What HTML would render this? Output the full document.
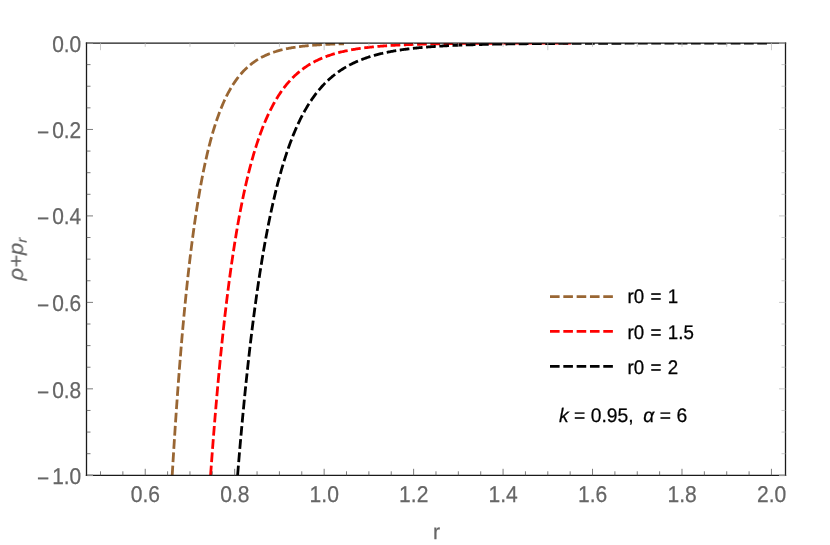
<!DOCTYPE html>
<html><head><meta charset="utf-8"><title>plot</title>
<style>html,body{margin:0;padding:0;background:#fff;width:830px;height:545px;overflow:hidden;font-family:"Liberation Sans",sans-serif}</style>
</head><body>
<svg width="830" height="545" viewBox="0 0 830 545" style="position:absolute;left:0;top:0">
<rect width="830" height="545" fill="#fff"/>
<clipPath id="cp"><rect x="86.5" y="43.0" width="699.0" height="432.90000000000003"/></clipPath>
<g clip-path="url(#cp)" fill="none" stroke-width="2.8" stroke-dasharray="9.7 3.55" stroke-linejoin="round">
<path d="M172.20 475.30 L173.10 460.35 L173.99 445.93 L174.89 432.02 L175.78 418.59 L176.68 405.64 L177.57 393.14 L178.46 381.08 L179.36 369.44 L180.25 358.21 L181.15 347.37 L182.04 336.91 L182.94 326.82 L183.83 317.08 L184.73 307.68 L185.62 298.61 L186.52 289.85 L187.41 281.40 L188.30 273.25 L189.20 265.37 L190.09 257.78 L190.99 250.44 L191.88 243.36 L192.78 236.53 L193.67 229.94 L194.57 223.57 L195.46 217.42 L196.36 211.49 L197.25 205.76 L198.15 200.23 L199.04 194.90 L199.93 189.74 L200.83 184.77 L201.72 179.96 L202.62 175.33 L203.51 170.85 L204.41 166.52 L205.30 162.35 L206.20 158.32 L207.09 154.43 L207.99 150.67 L208.88 147.04 L209.78 143.53 L210.67 140.15 L211.56 136.88 L212.46 133.72 L213.35 130.67 L214.25 127.73 L215.14 124.89 L216.04 122.14 L216.93 119.49 L217.83 116.92 L218.72 114.45 L219.62 112.06 L220.51 109.75 L221.41 107.52 L222.30 105.37 L223.19 103.29 L224.09 101.28 L224.98 99.33 L225.88 97.46 L226.77 95.65 L227.67 93.90 L228.56 92.20 L229.46 90.57 L230.35 88.99 L231.25 87.47 L232.14 85.99 L233.03 84.57 L233.93 83.19 L234.82 81.86 L235.72 80.58 L236.61 79.33 L237.51 78.14 L238.40 76.98 L239.30 75.86 L240.19 74.77 L241.09 73.73 L241.98 72.72 L242.88 71.74 L243.77 70.79 L244.66 69.88 L245.56 69.00 L246.45 68.15 L247.35 67.32 L248.24 66.52 L249.14 65.75 L250.03 65.01 L250.93 64.29 L251.82 63.59 L252.72 62.92 L253.61 62.27 L254.51 61.64 L255.40 61.04 L256.29 60.45 L257.19 59.88 L258.08 59.33 L258.98 58.80 L259.87 58.29 L260.77 57.79 L261.66 57.31 L262.56 56.85 L263.45 56.40 L264.35 55.97 L265.24 55.55 L266.14 55.14 L267.03 54.75 L267.92 54.37 L268.82 54.00 L269.71 53.65 L270.61 53.31 L271.50 52.97 L272.40 52.65 L273.29 52.34 L274.19 52.04 L275.08 51.75 L275.98 51.47 L276.87 51.20 L277.76 50.94 L278.66 50.68 L279.55 50.44 L280.45 50.20 L281.34 49.97 L282.24 49.75 L283.13 49.53 L284.03 49.32 L284.92 49.12 L285.82 48.93 L286.71 48.74 L287.61 48.56 L288.50 48.38 L289.39 48.21 L290.29 48.04 L291.18 47.88 L292.08 47.73 L292.97 47.58 L293.87 47.43 L294.76 47.29 L295.66 47.16 L296.55 47.03 L297.45 46.90 L298.34 46.78 L299.24 46.66 L300.13 46.54 L301.02 46.43 L301.92 46.32 L302.81 46.22 L303.71 46.12 L304.60 46.02 L305.50 45.92 L306.39 45.83 L307.29 45.74 L308.18 45.66 L309.08 45.57 L309.97 45.49 L310.87 45.42 L311.76 45.34 L312.65 45.27 L313.55 45.20 L314.44 45.13 L315.34 45.06 L316.23 45.00 L317.13 44.94 L318.02 44.88 L318.92 44.82 L319.81 44.76 L320.71 44.71 L321.60 44.65 L322.49 44.60 L323.39 44.55 L324.28 44.51 L325.18 44.46 L326.07 44.41 L326.97 44.37 L327.86 44.33 L328.76 44.29 L329.65 44.25 L330.55 44.21 L331.44 44.17 L332.34 44.14 L333.23 44.10 L334.12 44.07 L335.02 44.03 L335.91 44.00 L336.81 43.97 L337.70 43.94 L338.60 43.91 L339.49 43.89 L340.39 43.86 L341.28 43.83 L342.18 43.81 L343.07 43.78 L343.97 43.76" stroke="#996633"/>
<path d="M210.58 475.30 L211.48 462.95 L212.37 450.97 L213.26 439.34 L214.16 428.06 L215.05 417.11 L215.95 406.48 L216.84 396.17 L217.74 386.16 L218.63 376.45 L219.53 367.02 L220.42 357.87 L221.32 348.99 L222.21 340.36 L223.10 332.00 L224.00 323.87 L224.89 315.99 L225.79 308.33 L226.68 300.90 L227.58 293.68 L228.47 286.68 L229.37 279.87 L230.26 273.27 L231.16 266.86 L232.05 260.63 L232.95 254.58 L233.84 248.71 L234.73 243.01 L235.63 237.47 L236.52 232.09 L237.42 226.87 L238.31 221.80 L239.21 216.87 L240.10 212.09 L241.00 207.44 L241.89 202.92 L242.79 198.54 L243.68 194.28 L244.58 190.14 L245.47 186.12 L246.36 182.21 L247.26 178.42 L248.15 174.73 L249.05 171.15 L249.94 167.67 L250.84 164.28 L251.73 161.00 L252.63 157.80 L253.52 154.70 L254.42 151.69 L255.31 148.75 L256.21 145.91 L257.10 143.14 L257.99 140.45 L258.89 137.83 L259.78 135.29 L260.68 132.82 L261.57 130.42 L262.47 128.08 L263.36 125.81 L264.26 123.61 L265.15 121.46 L266.05 119.38 L266.94 117.35 L267.83 115.38 L268.73 113.46 L269.62 111.60 L270.52 109.79 L271.41 108.03 L272.31 106.31 L273.20 104.65 L274.10 103.03 L274.99 101.45 L275.89 99.92 L276.78 98.43 L277.68 96.98 L278.57 95.57 L279.46 94.20 L280.36 92.87 L281.25 91.57 L282.15 90.31 L283.04 89.08 L283.94 87.88 L284.83 86.72 L285.73 85.59 L286.62 84.49 L287.52 83.42 L288.41 82.38 L289.31 81.37 L290.20 80.38 L291.09 79.42 L291.99 78.49 L292.88 77.58 L293.78 76.70 L294.67 75.84 L295.57 75.00 L296.46 74.19 L297.36 73.39 L298.25 72.62 L299.15 71.87 L300.04 71.14 L300.94 70.43 L301.83 69.73 L302.72 69.06 L303.62 68.40 L304.51 67.76 L305.41 67.14 L306.30 66.53 L307.20 65.94 L308.09 65.37 L308.99 64.81 L309.88 64.27 L310.78 63.74 L311.67 63.22 L312.56 62.72 L313.46 62.23 L314.35 61.75 L315.25 61.29 L316.14 60.83 L317.04 60.39 L317.93 59.96 L318.83 59.55 L319.72 59.14 L320.62 58.74 L321.51 58.35 L322.41 57.98 L323.30 57.61 L324.19 57.25 L325.09 56.91 L325.98 56.57 L326.88 56.24 L327.77 55.92 L328.67 55.60 L329.56 55.30 L330.46 55.00 L331.35 54.71 L332.25 54.43 L333.14 54.15 L334.04 53.88 L334.93 53.62 L335.82 53.36 L336.72 53.12 L337.61 52.87 L338.51 52.64 L339.40 52.41 L340.30 52.18 L341.19 51.96 L342.09 51.75 L342.98 51.54 L343.88 51.34 L344.77 51.14 L345.67 50.95 L346.56 50.76 L347.45 50.58 L348.35 50.40 L349.24 50.23 L350.14 50.06 L351.03 49.89 L351.93 49.73 L352.82 49.57 L353.72 49.42 L354.61 49.27 L355.51 49.12 L356.40 48.98 L357.29 48.84 L358.19 48.71 L359.08 48.57 L359.98 48.44 L360.87 48.32 L361.77 48.20 L362.66 48.08 L363.56 47.96 L364.45 47.85 L365.35 47.73 L366.24 47.63 L367.14 47.52 L368.03 47.42 L368.92 47.32 L369.82 47.22 L370.71 47.12 L371.61 47.03 L372.50 46.94 L373.40 46.85 L374.29 46.76 L375.19 46.68 L376.08 46.59 L376.98 46.51 L377.87 46.43 L378.77 46.36 L379.66 46.28 L380.55 46.21 L381.45 46.14 L382.34 46.07 L383.24 46.00 L384.13 45.93 L385.03 45.87 L385.92 45.80 L386.82 45.74 L387.71 45.68 L388.61 45.62 L389.50 45.56 L390.40 45.51 L391.29 45.45 L392.18 45.40 L393.08 45.34 L393.97 45.29 L394.87 45.24 L395.76 45.19 L396.66 45.15 L397.55 45.10 L398.45 45.05 L399.34 45.01 L400.24 44.97 L401.13 44.92 L402.02 44.88 L402.92 44.84 L403.81 44.80 L404.71 44.76 L405.60 44.73 L406.50 44.69 L407.39 44.65 L408.29 44.62 L409.18 44.58 L410.08 44.55 L410.97 44.52 L411.87 44.48 L412.76 44.45 L413.65 44.42 L414.55 44.39 L415.44 44.36 L416.34 44.33 L417.23 44.31 L418.13 44.28 L419.02 44.25 L419.92 44.23 L420.81 44.20 L421.71 44.17 L422.60 44.15 L423.50 44.13 L424.39 44.10 L425.28 44.08 L426.18 44.06 L427.07 44.04 L427.97 44.01 L428.86 43.99 L429.76 43.97 L430.65 43.95 L431.55 43.93 L432.44 43.91 L433.34 43.90 L434.23 43.88 L435.13 43.86 L436.02 43.84 L436.91 43.82 L437.81 43.81 L438.70 43.79 L439.60 43.78 L440.49 43.76 L441.39 43.74 L442.28 43.73 L443.18 43.72 L444.07 43.70 L444.97 43.69 L445.86 43.67 L446.75 43.66 L447.65 43.65 L448.54 43.63 L449.44 43.62 L450.33 43.61 L451.23 43.60 L452.12 43.58 L453.02 43.57 L453.91 43.56 L454.81 43.55 L455.70 43.54 L456.60 43.53 L457.49 43.52 L458.38 43.51 L459.28 43.50 L460.17 43.49 L461.07 43.48 L461.96 43.47 L462.86 43.46 L463.75 43.45 L464.65 43.44 L465.54 43.44 L466.44 43.43 L467.33 43.42 L468.23 43.41 L469.12 43.40 L470.01 43.40 L470.91 43.39 L471.80 43.38 L472.70 43.37 L473.59 43.37 L474.49 43.36 L475.38 43.35 L476.28 43.35 L477.17 43.34 L478.07 43.33 L478.96 43.33 L479.86 43.32 L480.75 43.31 L481.64 43.31 L482.54 43.30 L483.43 43.30 L484.33 43.29 L485.22 43.29 L486.12 43.28 L487.01 43.28 L487.91 43.27 L488.80 43.27 L489.70 43.26 L490.59 43.26 L491.48 43.25 L492.38 43.25 L493.27 43.24 L494.17 43.24 L495.06 43.23 L495.96 43.23 L496.85 43.23 L497.75 43.22 L498.64 43.22 L499.54 43.21 L500.43 43.21 L501.33 43.21 L502.22 43.20 L503.11 43.20 L504.01 43.19 L504.90 43.19 L505.80 43.19 L506.69 43.18 L507.59 43.18 L508.48 43.18 L509.38 43.18 L510.27 43.17 L511.17 43.17 L512.06 43.17 L512.96 43.16 L513.85 43.16 L514.74 43.16 L515.64 43.15 L516.53 43.15 L517.43 43.15 L518.32 43.15 L519.22 43.14 L520.11 43.14 L521.01 43.14 L521.90 43.14 L522.80 43.13 L523.69 43.13 L524.59 43.13 L525.48 43.13 L526.37 43.13 L527.27 43.12 L528.16 43.12 L529.06 43.12 L529.95 43.12 L530.85 43.12 L531.74 43.11 L532.64 43.11 L533.53 43.11 L534.43 43.11 L535.32 43.11 L536.21 43.10 L537.11 43.10 L538.00 43.10 L538.90 43.10 L539.79 43.10 L540.69 43.10 L541.58 43.09 L542.48 43.09 L543.37 43.09 L544.27 43.09 L545.16 43.09 L546.06 43.09 L546.95 43.09 L547.84 43.08 L548.74 43.08 L549.63 43.08 L550.53 43.08 L551.42 43.08 L552.32 43.08 L553.21 43.08 L554.11 43.08 L555.00 43.07 L555.90 43.07 L556.79 43.07 L557.69 43.07 L558.58 43.07 L559.47 43.07 L560.37 43.07 L561.26 43.07 L562.16 43.07 L563.05 43.06 L563.95 43.06 L564.84 43.06 L565.74 43.06 L566.63 43.06 L567.53 43.06 L568.42 43.06 L569.32 43.06 L570.21 43.06 L571.10 43.06" stroke="#ff0000"/>
<path d="M237.60 475.30 L238.49 464.38 L239.39 453.74 L240.28 443.39 L241.18 433.30 L242.07 423.47 L242.97 413.91 L243.86 404.59 L244.75 395.51 L245.65 386.67 L246.54 378.06 L247.44 369.68 L248.33 361.51 L249.23 353.55 L250.12 345.80 L251.02 338.25 L251.91 330.89 L252.81 323.73 L253.70 316.75 L254.59 309.95 L255.49 303.32 L256.38 296.87 L257.28 290.58 L258.17 284.45 L259.07 278.48 L259.96 272.66 L260.86 267.00 L261.75 261.47 L262.65 256.09 L263.54 250.85 L264.44 245.74 L265.33 240.76 L266.22 235.91 L267.12 231.18 L268.01 226.57 L268.91 222.08 L269.80 217.70 L270.70 213.43 L271.59 209.28 L272.49 205.22 L273.38 201.27 L274.28 197.42 L275.17 193.67 L276.07 190.01 L276.96 186.45 L277.85 182.97 L278.75 179.58 L279.64 176.28 L280.54 173.06 L281.43 169.92 L282.33 166.86 L283.22 163.87 L284.12 160.96 L285.01 158.13 L285.91 155.36 L286.80 152.66 L287.70 150.03 L288.59 147.47 L289.48 144.97 L290.38 142.53 L291.27 140.16 L292.17 137.84 L293.06 135.58 L293.96 133.38 L294.85 131.24 L295.75 129.15 L296.64 127.11 L297.54 125.12 L298.43 123.19 L299.32 121.30 L300.22 119.47 L301.11 117.67 L302.01 115.93 L302.90 114.22 L303.80 112.56 L304.69 110.94 L305.59 109.37 L306.48 107.83 L307.38 106.33 L308.27 104.86 L309.17 103.44 L310.06 102.05 L310.95 100.69 L311.85 99.37 L312.74 98.07 L313.64 96.82 L314.53 95.59 L315.43 94.39 L316.32 93.22 L317.22 92.08 L318.11 90.97 L319.01 89.89 L319.90 88.83 L320.80 87.80 L321.69 86.79 L322.58 85.81 L323.48 84.85 L324.37 83.91 L325.27 83.00 L326.16 82.11 L327.06 81.24 L327.95 80.39 L328.85 79.56 L329.74 78.75 L330.64 77.96 L331.53 77.19 L332.43 76.44 L333.32 75.71 L334.21 74.99 L335.11 74.29 L336.00 73.61 L336.90 72.94 L337.79 72.29 L338.69 71.66 L339.58 71.04 L340.48 70.43 L341.37 69.84 L342.27 69.26 L343.16 68.70 L344.05 68.15 L344.95 67.61 L345.84 67.08 L346.74 66.57 L347.63 66.07 L348.53 65.58 L349.42 65.10 L350.32 64.63 L351.21 64.17 L352.11 63.73 L353.00 63.29 L353.90 62.87 L354.79 62.45 L355.68 62.04 L356.58 61.65 L357.47 61.26 L358.37 60.88 L359.26 60.51 L360.16 60.14 L361.05 59.79 L361.95 59.44 L362.84 59.11 L363.74 58.78 L364.63 58.45 L365.53 58.14 L366.42 57.83 L367.31 57.53 L368.21 57.23 L369.10 56.94 L370.00 56.66 L370.89 56.38 L371.79 56.11 L372.68 55.85 L373.58 55.59 L374.47 55.34 L375.37 55.09 L376.26 54.85 L377.16 54.62 L378.05 54.38 L378.94 54.16 L379.84 53.94 L380.73 53.72 L381.63 53.51 L382.52 53.30 L383.42 53.10 L384.31 52.90 L385.21 52.71 L386.10 52.52 L387.00 52.34 L387.89 52.16 L388.78 51.98 L389.68 51.80 L390.57 51.63 L391.47 51.47 L392.36 51.31 L393.26 51.15 L394.15 50.99 L395.05 50.84 L395.94 50.69 L396.84 50.54 L397.73 50.40 L398.63 50.26 L399.52 50.12 L400.41 49.99 L401.31 49.86 L402.20 49.73 L403.10 49.60 L403.99 49.48 L404.89 49.36 L405.78 49.24 L406.68 49.13 L407.57 49.01 L408.47 48.90 L409.36 48.79 L410.26 48.69 L411.15 48.58 L412.04 48.48 L412.94 48.38 L413.83 48.28 L414.73 48.19 L415.62 48.09 L416.52 48.00 L417.41 47.91 L418.31 47.82 L419.20 47.73 L420.10 47.65 L420.99 47.57 L421.89 47.49 L422.78 47.41 L423.67 47.33 L424.57 47.25 L425.46 47.18 L426.36 47.10 L427.25 47.03 L428.15 46.96 L429.04 46.89 L429.94 46.82 L430.83 46.76 L431.73 46.69 L432.62 46.63 L433.51 46.56 L434.41 46.50 L435.30 46.44 L436.20 46.38 L437.09 46.33 L437.99 46.27 L438.88 46.21 L439.78 46.16 L440.67 46.10 L441.57 46.05 L442.46 46.00 L443.36 45.95 L444.25 45.90 L445.14 45.85 L446.04 45.80 L446.93 45.76 L447.83 45.71 L448.72 45.67 L449.62 45.62 L450.51 45.58 L451.41 45.54 L452.30 45.50 L453.20 45.45 L454.09 45.41 L454.99 45.38 L455.88 45.34 L456.77 45.30 L457.67 45.26 L458.56 45.22 L459.46 45.19 L460.35 45.15 L461.25 45.12 L462.14 45.09 L463.04 45.05 L463.93 45.02 L464.83 44.99 L465.72 44.96 L466.62 44.93 L467.51 44.90 L468.40 44.87 L469.30 44.84 L470.19 44.81 L471.09 44.78 L471.98 44.75 L472.88 44.73 L473.77 44.70 L474.67 44.67 L475.56 44.65 L476.46 44.62 L477.35 44.60 L478.24 44.57 L479.14 44.55 L480.03 44.53 L480.93 44.50 L481.82 44.48 L482.72 44.46 L483.61 44.44 L484.51 44.41 L485.40 44.39 L486.30 44.37 L487.19 44.35 L488.09 44.33 L488.98 44.31 L489.87 44.29 L490.77 44.27 L491.66 44.26 L492.56 44.24 L493.45 44.22 L494.35 44.20 L495.24 44.19 L496.14 44.17 L497.03 44.15 L497.93 44.13 L498.82 44.12 L499.72 44.10 L500.61 44.09 L501.50 44.07 L502.40 44.06 L503.29 44.04 L504.19 44.03 L505.08 44.01 L505.98 44.00 L506.87 43.99 L507.77 43.97 L508.66 43.96 L509.56 43.95 L510.45 43.93 L511.35 43.92 L512.24 43.91 L513.13 43.89 L514.03 43.88 L514.92 43.87 L515.82 43.86 L516.71 43.85 L517.61 43.84 L518.50 43.82 L519.40 43.81 L520.29 43.80 L521.19 43.79 L522.08 43.78 L522.97 43.77 L523.87 43.76 L524.76 43.75 L525.66 43.74 L526.55 43.73 L527.45 43.72 L528.34 43.71 L529.24 43.70 L530.13 43.70 L531.03 43.69 L531.92 43.68 L532.82 43.67 L533.71 43.66 L534.60 43.65 L535.50 43.64 L536.39 43.64 L537.29 43.63 L538.18 43.62 L539.08 43.61 L539.97 43.61 L540.87 43.60 L541.76 43.59 L542.66 43.58 L543.55 43.58 L544.45 43.57 L545.34 43.56 L546.23 43.56 L547.13 43.55 L548.02 43.54 L548.92 43.54 L549.81 43.53 L550.71 43.52 L551.60 43.52 L552.50 43.51 L553.39 43.51 L554.29 43.50 L555.18 43.49 L556.08 43.49 L556.97 43.48 L557.86 43.48 L558.76 43.47 L559.65 43.47 L560.55 43.46 L561.44 43.46 L562.34 43.45 L563.23 43.45 L564.13 43.44 L565.02 43.44 L565.92 43.43 L566.81 43.43 L567.70 43.42 L568.60 43.42 L569.49 43.41 L570.39 43.41 L571.28 43.40 L572.18 43.40 L573.07 43.39 L573.97 43.39 L574.86 43.39 L575.76 43.38 L576.65 43.38 L577.55 43.37 L578.44 43.37 L579.33 43.37 L580.23 43.36 L581.12 43.36 L582.02 43.35 L582.91 43.35 L583.81 43.35 L584.70 43.34 L585.60 43.34 L586.49 43.34 L587.39 43.33 L588.28 43.33 L589.18 43.33 L590.07 43.32 L590.96 43.32 L591.86 43.32 L592.75 43.31 L593.65 43.31 L594.54 43.31 L595.44 43.31 L596.33 43.30 L597.23 43.30 L598.12 43.30 L599.02 43.29 L599.91 43.29 L600.81 43.29 L601.70 43.29 L602.59 43.28 L603.49 43.28 L604.38 43.28 L605.28 43.27 L606.17 43.27 L607.07 43.27 L607.96 43.27 L608.86 43.26 L609.75 43.26 L610.65 43.26 L611.54 43.26 L612.43 43.26 L613.33 43.25 L614.22 43.25 L615.12 43.25 L616.01 43.25 L616.91 43.24 L617.80 43.24 L618.70 43.24 L619.59 43.24 L620.49 43.24 L621.38 43.23 L622.28 43.23 L623.17 43.23 L624.06 43.23 L624.96 43.23 L625.85 43.22 L626.75 43.22 L627.64 43.22 L628.54 43.22 L629.43 43.22 L630.33 43.22 L631.22 43.21 L632.12 43.21 L633.01 43.21 L633.91 43.21 L634.80 43.21 L635.69 43.21 L636.59 43.20 L637.48 43.20 L638.38 43.20 L639.27 43.20 L640.17 43.20 L641.06 43.20 L641.96 43.19 L642.85 43.19 L643.75 43.19 L644.64 43.19 L645.54 43.19 L646.43 43.19 L647.32 43.19 L648.22 43.18 L649.11 43.18 L650.01 43.18 L650.90 43.18 L651.80 43.18 L652.69 43.18 L653.59 43.18 L654.48 43.18 L655.38 43.17 L656.27 43.17 L657.16 43.17 L658.06 43.17 L658.95 43.17 L659.85 43.17 L660.74 43.17 L661.64 43.17 L662.53 43.17 L663.43 43.16 L664.32 43.16 L665.22 43.16 L666.11 43.16 L667.01 43.16 L667.90 43.16 L668.79 43.16 L669.69 43.16 L670.58 43.16 L671.48 43.16 L672.37 43.15 L673.27 43.15 L674.16 43.15 L675.06 43.15 L675.95 43.15 L676.85 43.15 L677.74 43.15 L678.64 43.15 L679.53 43.15 L680.42 43.15 L681.32 43.15 L682.21 43.14 L683.11 43.14 L684.00 43.14 L684.90 43.14 L685.79 43.14 L686.69 43.14 L687.58 43.14 L688.48 43.14 L689.37 43.14 L690.27 43.14 L691.16 43.14 L692.05 43.14 L692.95 43.14 L693.84 43.13 L694.74 43.13 L695.63 43.13 L696.53 43.13 L697.42 43.13 L698.32 43.13 L699.21 43.13 L700.11 43.13 L701.00 43.13 L701.89 43.13 L702.79 43.13 L703.68 43.13 L704.58 43.13 L705.47 43.13 L706.37 43.13 L707.26 43.13 L708.16 43.13 L709.05 43.12 L709.95 43.12 L710.84 43.12 L711.74 43.12 L712.63 43.12 L713.52 43.12 L714.42 43.12 L715.31 43.12 L716.21 43.12 L717.10 43.12 L718.00 43.12 L718.89 43.12 L719.79 43.12 L720.68 43.12 L721.58 43.12 L722.47 43.12 L723.37 43.12 L724.26 43.12 L725.15 43.12 L726.05 43.12 L726.94 43.12 L727.84 43.11 L728.73 43.11 L729.63 43.11 L730.52 43.11 L731.42 43.11 L732.31 43.11 L733.21 43.11 L734.10 43.11 L735.00 43.11 L735.89 43.11 L736.78 43.11 L737.68 43.11 L738.57 43.11 L739.47 43.11 L740.36 43.11 L741.26 43.11 L742.15 43.11 L743.05 43.11 L743.94 43.11 L744.84 43.11 L745.73 43.11 L746.62 43.11 L747.52 43.11 L748.41 43.11 L749.31 43.11 L750.20 43.11 L751.10 43.11 L751.99 43.11 L752.89 43.11 L753.78 43.11 L754.68 43.11 L755.57 43.11 L756.47 43.10 L757.36 43.10 L758.25 43.10 L759.15 43.10 L760.04 43.10 L760.94 43.10 L761.83 43.10 L762.73 43.10 L763.62 43.10 L764.52 43.10 L765.41 43.10 L766.31 43.10 L767.20 43.10 L768.10 43.10" stroke="#000000"/>
</g>
<g stroke="#1a1a1a" stroke-width="1.3" stroke-linecap="square">
<line x1="86.5" y1="43.15" x2="785.5" y2="43.15"/><line x1="86.5" y1="475.45" x2="785.5" y2="475.45"/>
<line x1="86.5" y1="43.15" x2="86.5" y2="475.45"/><line x1="785.5" y1="43.15" x2="785.5" y2="475.45"/>
</g>
<line x1="100.50" y1="475.45" x2="100.50" y2="471.3" stroke="#505050" stroke-width="0.75"/>
<line x1="122.87" y1="475.45" x2="122.87" y2="471.3" stroke="#505050" stroke-width="0.75"/>
<line x1="145.23" y1="475.45" x2="145.23" y2="468.8" stroke="#505050" stroke-width="0.75"/>
<line x1="167.60" y1="475.45" x2="167.60" y2="471.3" stroke="#505050" stroke-width="0.75"/>
<line x1="189.96" y1="475.45" x2="189.96" y2="471.3" stroke="#505050" stroke-width="0.75"/>
<line x1="212.32" y1="475.45" x2="212.32" y2="471.3" stroke="#505050" stroke-width="0.75"/>
<line x1="234.69" y1="475.45" x2="234.69" y2="468.8" stroke="#505050" stroke-width="0.75"/>
<line x1="257.06" y1="475.45" x2="257.06" y2="471.3" stroke="#505050" stroke-width="0.75"/>
<line x1="279.42" y1="475.45" x2="279.42" y2="471.3" stroke="#505050" stroke-width="0.75"/>
<line x1="301.78" y1="475.45" x2="301.78" y2="471.3" stroke="#505050" stroke-width="0.75"/>
<line x1="324.15" y1="475.45" x2="324.15" y2="468.8" stroke="#505050" stroke-width="0.75"/>
<line x1="346.51" y1="475.45" x2="346.51" y2="471.3" stroke="#505050" stroke-width="0.75"/>
<line x1="368.88" y1="475.45" x2="368.88" y2="471.3" stroke="#505050" stroke-width="0.75"/>
<line x1="391.24" y1="475.45" x2="391.24" y2="471.3" stroke="#505050" stroke-width="0.75"/>
<line x1="413.61" y1="475.45" x2="413.61" y2="468.8" stroke="#505050" stroke-width="0.75"/>
<line x1="435.98" y1="475.45" x2="435.98" y2="471.3" stroke="#505050" stroke-width="0.75"/>
<line x1="458.34" y1="475.45" x2="458.34" y2="471.3" stroke="#505050" stroke-width="0.75"/>
<line x1="480.71" y1="475.45" x2="480.71" y2="471.3" stroke="#505050" stroke-width="0.75"/>
<line x1="503.07" y1="475.45" x2="503.07" y2="468.8" stroke="#505050" stroke-width="0.75"/>
<line x1="525.44" y1="475.45" x2="525.44" y2="471.3" stroke="#505050" stroke-width="0.75"/>
<line x1="547.80" y1="475.45" x2="547.80" y2="471.3" stroke="#505050" stroke-width="0.75"/>
<line x1="570.16" y1="475.45" x2="570.16" y2="471.3" stroke="#505050" stroke-width="0.75"/>
<line x1="592.53" y1="475.45" x2="592.53" y2="468.8" stroke="#505050" stroke-width="0.75"/>
<line x1="614.90" y1="475.45" x2="614.90" y2="471.3" stroke="#505050" stroke-width="0.75"/>
<line x1="637.26" y1="475.45" x2="637.26" y2="471.3" stroke="#505050" stroke-width="0.75"/>
<line x1="659.62" y1="475.45" x2="659.62" y2="471.3" stroke="#505050" stroke-width="0.75"/>
<line x1="681.99" y1="475.45" x2="681.99" y2="468.8" stroke="#505050" stroke-width="0.75"/>
<line x1="704.36" y1="475.45" x2="704.36" y2="471.3" stroke="#505050" stroke-width="0.75"/>
<line x1="726.72" y1="475.45" x2="726.72" y2="471.3" stroke="#505050" stroke-width="0.75"/>
<line x1="749.09" y1="475.45" x2="749.09" y2="471.3" stroke="#505050" stroke-width="0.75"/>
<line x1="771.45" y1="475.45" x2="771.45" y2="468.8" stroke="#505050" stroke-width="0.75"/>
<line x1="100.50" y1="43.15" x2="100.50" y2="50.2" stroke="#b8b8b8" stroke-width="0.75"/>
<line x1="145.23" y1="43.15" x2="145.23" y2="46.8" stroke="#b8b8b8" stroke-width="0.75"/>
<line x1="189.96" y1="43.15" x2="189.96" y2="46.8" stroke="#b8b8b8" stroke-width="0.75"/>
<line x1="234.69" y1="43.15" x2="234.69" y2="46.8" stroke="#b8b8b8" stroke-width="0.75"/>
<line x1="279.42" y1="43.15" x2="279.42" y2="46.8" stroke="#b8b8b8" stroke-width="0.75"/>
<line x1="324.15" y1="43.15" x2="324.15" y2="50.2" stroke="#b8b8b8" stroke-width="0.75"/>
<line x1="368.88" y1="43.15" x2="368.88" y2="46.8" stroke="#b8b8b8" stroke-width="0.75"/>
<line x1="413.61" y1="43.15" x2="413.61" y2="46.8" stroke="#b8b8b8" stroke-width="0.75"/>
<line x1="458.34" y1="43.15" x2="458.34" y2="46.8" stroke="#b8b8b8" stroke-width="0.75"/>
<line x1="503.07" y1="43.15" x2="503.07" y2="46.8" stroke="#b8b8b8" stroke-width="0.75"/>
<line x1="547.80" y1="43.15" x2="547.80" y2="50.2" stroke="#b8b8b8" stroke-width="0.75"/>
<line x1="592.53" y1="43.15" x2="592.53" y2="46.8" stroke="#b8b8b8" stroke-width="0.75"/>
<line x1="637.26" y1="43.15" x2="637.26" y2="46.8" stroke="#b8b8b8" stroke-width="0.75"/>
<line x1="681.99" y1="43.15" x2="681.99" y2="46.8" stroke="#b8b8b8" stroke-width="0.75"/>
<line x1="726.72" y1="43.15" x2="726.72" y2="46.8" stroke="#b8b8b8" stroke-width="0.75"/>
<line x1="771.45" y1="43.15" x2="771.45" y2="50.2" stroke="#b8b8b8" stroke-width="0.75"/>
<line x1="86.5" y1="43.00" x2="93.0" y2="43.00" stroke="#505050" stroke-width="0.75"/>
<line x1="785.5" y1="43.00" x2="779.0" y2="43.00" stroke="#b8b8b8" stroke-width="0.75"/>
<line x1="86.5" y1="64.62" x2="90.5" y2="64.62" stroke="#505050" stroke-width="0.75"/>
<line x1="785.5" y1="64.62" x2="781.5" y2="64.62" stroke="#b8b8b8" stroke-width="0.75"/>
<line x1="86.5" y1="86.23" x2="90.5" y2="86.23" stroke="#505050" stroke-width="0.75"/>
<line x1="785.5" y1="86.23" x2="781.5" y2="86.23" stroke="#b8b8b8" stroke-width="0.75"/>
<line x1="86.5" y1="107.85" x2="90.5" y2="107.85" stroke="#505050" stroke-width="0.75"/>
<line x1="785.5" y1="107.85" x2="781.5" y2="107.85" stroke="#b8b8b8" stroke-width="0.75"/>
<line x1="86.5" y1="129.46" x2="93.0" y2="129.46" stroke="#505050" stroke-width="0.75"/>
<line x1="785.5" y1="129.46" x2="779.0" y2="129.46" stroke="#b8b8b8" stroke-width="0.75"/>
<line x1="86.5" y1="151.07" x2="90.5" y2="151.07" stroke="#505050" stroke-width="0.75"/>
<line x1="785.5" y1="151.07" x2="781.5" y2="151.07" stroke="#b8b8b8" stroke-width="0.75"/>
<line x1="86.5" y1="172.69" x2="90.5" y2="172.69" stroke="#505050" stroke-width="0.75"/>
<line x1="785.5" y1="172.69" x2="781.5" y2="172.69" stroke="#b8b8b8" stroke-width="0.75"/>
<line x1="86.5" y1="194.31" x2="90.5" y2="194.31" stroke="#505050" stroke-width="0.75"/>
<line x1="785.5" y1="194.31" x2="781.5" y2="194.31" stroke="#b8b8b8" stroke-width="0.75"/>
<line x1="86.5" y1="215.92" x2="93.0" y2="215.92" stroke="#505050" stroke-width="0.75"/>
<line x1="785.5" y1="215.92" x2="779.0" y2="215.92" stroke="#b8b8b8" stroke-width="0.75"/>
<line x1="86.5" y1="237.53" x2="90.5" y2="237.53" stroke="#505050" stroke-width="0.75"/>
<line x1="785.5" y1="237.53" x2="781.5" y2="237.53" stroke="#b8b8b8" stroke-width="0.75"/>
<line x1="86.5" y1="259.15" x2="90.5" y2="259.15" stroke="#505050" stroke-width="0.75"/>
<line x1="785.5" y1="259.15" x2="781.5" y2="259.15" stroke="#b8b8b8" stroke-width="0.75"/>
<line x1="86.5" y1="280.76" x2="90.5" y2="280.76" stroke="#505050" stroke-width="0.75"/>
<line x1="785.5" y1="280.76" x2="781.5" y2="280.76" stroke="#b8b8b8" stroke-width="0.75"/>
<line x1="86.5" y1="302.38" x2="93.0" y2="302.38" stroke="#505050" stroke-width="0.75"/>
<line x1="785.5" y1="302.38" x2="779.0" y2="302.38" stroke="#b8b8b8" stroke-width="0.75"/>
<line x1="86.5" y1="324.00" x2="90.5" y2="324.00" stroke="#505050" stroke-width="0.75"/>
<line x1="785.5" y1="324.00" x2="781.5" y2="324.00" stroke="#b8b8b8" stroke-width="0.75"/>
<line x1="86.5" y1="345.61" x2="90.5" y2="345.61" stroke="#505050" stroke-width="0.75"/>
<line x1="785.5" y1="345.61" x2="781.5" y2="345.61" stroke="#b8b8b8" stroke-width="0.75"/>
<line x1="86.5" y1="367.23" x2="90.5" y2="367.23" stroke="#505050" stroke-width="0.75"/>
<line x1="785.5" y1="367.23" x2="781.5" y2="367.23" stroke="#b8b8b8" stroke-width="0.75"/>
<line x1="86.5" y1="388.84" x2="93.0" y2="388.84" stroke="#505050" stroke-width="0.75"/>
<line x1="785.5" y1="388.84" x2="779.0" y2="388.84" stroke="#b8b8b8" stroke-width="0.75"/>
<line x1="86.5" y1="410.46" x2="90.5" y2="410.46" stroke="#505050" stroke-width="0.75"/>
<line x1="785.5" y1="410.46" x2="781.5" y2="410.46" stroke="#b8b8b8" stroke-width="0.75"/>
<line x1="86.5" y1="432.07" x2="90.5" y2="432.07" stroke="#505050" stroke-width="0.75"/>
<line x1="785.5" y1="432.07" x2="781.5" y2="432.07" stroke="#b8b8b8" stroke-width="0.75"/>
<line x1="86.5" y1="453.69" x2="90.5" y2="453.69" stroke="#505050" stroke-width="0.75"/>
<line x1="785.5" y1="453.69" x2="781.5" y2="453.69" stroke="#b8b8b8" stroke-width="0.75"/>
<line x1="86.5" y1="475.30" x2="93.0" y2="475.30" stroke="#505050" stroke-width="0.75"/>
<line x1="785.5" y1="475.30" x2="779.0" y2="475.30" stroke="#b8b8b8" stroke-width="0.75"/>
<line x1="87.2" y1="43.15" x2="93.0" y2="43.15" stroke="#8c8c8c" stroke-width="1.3"/>
<line x1="779.0" y1="43.15" x2="784.8" y2="43.15" stroke="#9a9a9a" stroke-width="1.3"/>
<line x1="87.2" y1="475.45" x2="93.0" y2="475.45" stroke="#8c8c8c" stroke-width="1.3"/>
<line x1="779.0" y1="475.45" x2="784.8" y2="475.45" stroke="#9a9a9a" stroke-width="1.3"/>
<g style="opacity:0.999" text-rendering="geometricPrecision">
<text transform="translate(145.33 501.90) scale(0.92 1)" text-anchor="middle" font-family="Liberation Sans, sans-serif" font-size="22.9" fill="#666666" stroke="#666666" stroke-width="0.25">0.6</text>
<text transform="translate(234.79 501.90) scale(0.92 1)" text-anchor="middle" font-family="Liberation Sans, sans-serif" font-size="22.9" fill="#666666" stroke="#666666" stroke-width="0.25">0.8</text>
<text transform="translate(324.25 501.90) scale(0.92 1)" text-anchor="middle" font-family="Liberation Sans, sans-serif" font-size="22.9" fill="#666666" stroke="#666666" stroke-width="0.25">1.0</text>
<text transform="translate(413.71 501.90) scale(0.92 1)" text-anchor="middle" font-family="Liberation Sans, sans-serif" font-size="22.9" fill="#666666" stroke="#666666" stroke-width="0.25">1.2</text>
<text transform="translate(503.17 501.90) scale(0.92 1)" text-anchor="middle" font-family="Liberation Sans, sans-serif" font-size="22.9" fill="#666666" stroke="#666666" stroke-width="0.25">1.4</text>
<text transform="translate(592.63 501.90) scale(0.92 1)" text-anchor="middle" font-family="Liberation Sans, sans-serif" font-size="22.9" fill="#666666" stroke="#666666" stroke-width="0.25">1.6</text>
<text transform="translate(682.09 501.90) scale(0.92 1)" text-anchor="middle" font-family="Liberation Sans, sans-serif" font-size="22.9" fill="#666666" stroke="#666666" stroke-width="0.25">1.8</text>
<text transform="translate(771.55 501.90) scale(0.92 1)" text-anchor="middle" font-family="Liberation Sans, sans-serif" font-size="22.9" fill="#666666" stroke="#666666" stroke-width="0.25">2.0</text>
<text transform="translate(81.20 51.80) scale(0.913 1)" text-anchor="end" font-family="Liberation Sans, sans-serif" font-size="22.9" fill="#666666" stroke="#666666" stroke-width="0.25">0.0</text>
<text transform="translate(81.20 138.26) scale(0.913 1)" text-anchor="end" font-family="Liberation Sans, sans-serif" font-size="22.9" fill="#666666" stroke="#666666" stroke-width="0.25"><tspan letter-spacing="3.2" dy="2.1">−</tspan><tspan dy="-2.1">0.2</tspan></text>
<text transform="translate(81.20 224.32) scale(0.913 1)" text-anchor="end" font-family="Liberation Sans, sans-serif" font-size="22.9" fill="#666666" stroke="#666666" stroke-width="0.25"><tspan letter-spacing="3.2" dy="2.1">−</tspan><tspan dy="-2.1">0.4</tspan></text>
<text transform="translate(81.20 311.18) scale(0.913 1)" text-anchor="end" font-family="Liberation Sans, sans-serif" font-size="22.9" fill="#666666" stroke="#666666" stroke-width="0.25"><tspan letter-spacing="3.2" dy="2.1">−</tspan><tspan dy="-2.1">0.6</tspan></text>
<text transform="translate(81.20 397.64) scale(0.913 1)" text-anchor="end" font-family="Liberation Sans, sans-serif" font-size="22.9" fill="#666666" stroke="#666666" stroke-width="0.25"><tspan letter-spacing="3.2" dy="2.1">−</tspan><tspan dy="-2.1">0.8</tspan></text>
<text transform="translate(81.20 484.10) scale(0.913 1)" text-anchor="end" font-family="Liberation Sans, sans-serif" font-size="22.9" fill="#666666" stroke="#666666" stroke-width="0.25"><tspan letter-spacing="3.2" dy="2.1">−</tspan><tspan dy="-2.1">1.0</tspan></text>
<text transform="translate(436.60 538.70) scale(0.99 1)" text-anchor="middle" font-family="Liberation Sans, sans-serif" font-size="21.5" fill="#666666" stroke="#666666" stroke-width="0.25">r</text>
<text transform="translate(22.6 259) rotate(-90) scale(1 0.9)" text-anchor="middle" font-family="Liberation Sans, sans-serif" font-size="22" fill="#666666" font-style="italic" stroke="#666666" stroke-width="0.2">ρ+p<tspan font-size="15.5" dy="4.5">r</tspan></text>
<line x1="550" y1="296.55" x2="613.3" y2="296.55" stroke="#996633" stroke-width="2.8" stroke-dasharray="9.6 3.72"/>
<text transform="translate(627.40 303.30) scale(0.95 1)" text-anchor="start" font-family="Liberation Sans, sans-serif" font-size="19.7" fill="#000" word-spacing="1.3" stroke="#000" stroke-width="0.3">r0 = 1</text>
<line x1="550" y1="331.45" x2="613.3" y2="331.45" stroke="#ff0000" stroke-width="2.8" stroke-dasharray="9.6 3.72"/>
<text transform="translate(627.40 338.90) scale(0.95 1)" text-anchor="start" font-family="Liberation Sans, sans-serif" font-size="19.7" fill="#000" word-spacing="1.3" stroke="#000" stroke-width="0.3">r0 = 1.5</text>
<line x1="550" y1="366.35" x2="613.3" y2="366.35" stroke="#000000" stroke-width="2.8" stroke-dasharray="9.6 3.72"/>
<text transform="translate(627.40 374.00) scale(0.95 1)" text-anchor="start" font-family="Liberation Sans, sans-serif" font-size="19.7" fill="#000" word-spacing="1.3" stroke="#000" stroke-width="0.3">r0 = 2</text>
<text transform="translate(559.00 421.60) scale(0.985 1)" text-anchor="start" font-family="Liberation Sans, sans-serif" font-size="19.6" fill="#000" stroke="#000" stroke-width="0.25"><tspan font-style="italic">k</tspan> = 0.95,  <tspan font-style="italic" dx="4.5">α</tspan> = 6</text>
</g>
</svg>
</body></html>
